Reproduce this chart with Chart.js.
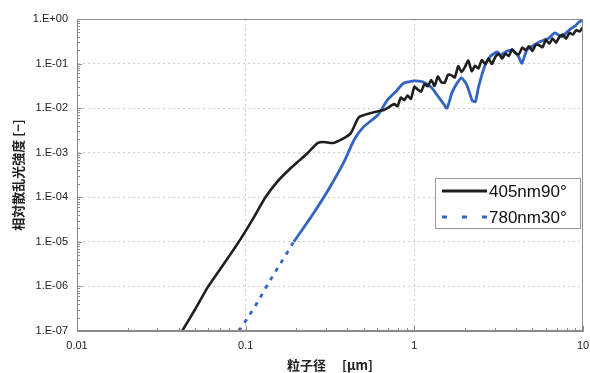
<!DOCTYPE html>
<html>
<head>
<meta charset="utf-8">
<script src="https://cdn.jsdelivr.net/npm/chart.js@4/dist/chart.umd.min.js"></script>
<style>
  html, body { margin: 0; padding: 0; background: #fff; }
  #wrap { width: 590px; height: 373px; }
</style>
</head>
<body>
<div id="wrap"><canvas id="canvas"></canvas></div>
<script>
// 粒子径 [um]
var sizes405 = [0.042, 0.05, 0.06, 0.075, 0.091, 0.11, 0.131, 0.155, 0.18, 0.21, 0.234, 0.268, 0.29, 0.33, 0.38, 0.42, 0.47, 0.555, 0.66, 0.69,
  0.759, 0.794, 0.832, 0.871, 0.912, 0.955, 1.0, 1.047, 1.096, 1.148, 1.202, 1.259, 1.318, 1.380, 1.445, 1.514, 1.585, 1.660, 1.738, 1.820,
  1.905, 1.995, 2.089, 2.188, 2.291, 2.399, 2.512, 2.630, 2.754, 2.884, 3.020, 3.162, 3.311, 3.467, 3.631, 3.802, 3.981, 4.169, 4.365, 4.571,
  4.786, 5.012, 5.248, 5.495, 5.754, 6.026, 6.310, 6.607, 6.918, 7.244, 7.586, 7.943, 8.318, 8.710, 9.120, 9.550, 10.0];
// 405nm90° 相対散乱光強度
var intensity405 = [1e-7, 3e-7, 1e-6, 3.4e-6, 1e-5, 3.2e-5, 1e-4, 2.3e-4, 4.1e-4, 6.9e-4, 1.0e-3, 1.66e-3, 1.74e-3, 1.66e-3, 2.1e-3, 2.75e-3, 6.3e-3, 7.8e-3, 9.1e-3, 1.0e-2,
  1.23e-2, 1.10e-2, 1.74e-2, 1.51e-2, 1.91e-2, 1.62e-2, 3.02e-2, 2.63e-2, 2.34e-2, 3.47e-2, 3.09e-2, 4.27e-2, 3.16e-2, 5.13e-2, 3.80e-2, 3.72e-2, 5.62e-2, 5.50e-2, 4.90e-2, 8.71e-2,
  6.46e-2, 8.32e-2, 0.117, 6.76e-2, 8.91e-2, 7.76e-2, 0.120, 9.77e-2, 0.129, 9.77e-2, 0.141, 0.166, 0.129, 0.166, 0.148, 0.209, 0.170, 0.162, 0.229, 0.200,
  0.245, 0.191, 0.263, 0.257, 0.234, 0.339, 0.282, 0.363, 0.295, 0.398, 0.447, 0.363, 0.490, 0.447, 0.562, 0.525, 0.661];

// 780nm30°
var sizes780 = [0.091, 0.103, 0.117, 0.135, 0.155, 0.193, 0.244, 0.31, 0.38, 0.44, 0.50, 0.61, 0.69, 0.78, 0.86, 0.93, 1.0, 1.12, 1.26, 1.36,
  1.48, 1.56, 1.67, 1.79, 1.9, 2.05, 2.2, 2.3, 2.4, 2.6, 2.8, 2.95, 3.1, 3.25, 3.4, 3.6, 3.8, 4.0, 4.16, 4.34,
  4.64, 5.0, 5.47, 5.9, 6.28, 6.8, 7.5, 8.0, 8.6, 9.0, 9.46, 10.0];
var intensity780 = [1.0e-7, 2.0e-7, 4.3e-7, 1.1e-6, 2.6e-6, 1.0e-5, 3.6e-5, 1.5e-4, 5.9e-4, 1.95e-3, 3.8e-3, 7.1e-3, 1.5e-2, 2.4e-2, 3.6e-2, 3.9e-2, 4.1e-2, 3.9e-2, 2.95e-2, 2.0e-2,
  1.3e-2, 1.0e-2, 2.2e-2, 3.6e-2, 4.8e-2, 3.3e-2, 1.5e-2, 1.4e-2, 2.95e-2, 8.3e-2, 0.141, 0.166, 0.182, 0.155, 0.174, 0.195, 0.2, 0.17, 0.141, 0.102,
  0.2, 0.245, 0.302, 0.34, 0.372, 0.49, 0.398, 0.5, 0.63, 0.7, 0.85, 0.95];

var seriesNames = ["405nm90°", "780nm30°"];
var xTickLabels = ["0.01", "0.1", "1", "10"];
var yTickLabels = ["1.E-07", "1.E-06", "1.E-05", "1.E-04", "1.E-03", "1.E-02", "1.E-01", "1.E+00"];

function toPoints(xs, ys) {
  return xs.map(function (x, i) { return { x: x, y: ys[i] }; });
}

function isDecade(v) {
  var l = Math.log10(v);
  return Math.abs(l - Math.round(l)) < 1e-6;
}

// 1..9 x 10^n の目盛
function logTicks(minExp, maxExp) {
  var t = [];
  for (var e = minExp; e < maxExp; e++) {
    for (var m = 1; m < 10; m++) t.push({ value: m * Math.pow(10, e) });
  }
  t.push({ value: Math.pow(10, maxExp) });
  return t;
}

var font = "'Liberation Sans', Arial, sans-serif";

// 枠・内向き目盛・凡例
var framePlugin = {
  id: 'frame',
  afterDraw: function (chart) {
    var c = chart.ctx, a = chart.chartArea;
    c.save();
    c.strokeStyle = '#8a8a8a';
    c.lineWidth = 1;
    c.strokeRect(a.left + 0.5, a.top + 0.5, a.right - a.left - 1, a.bottom - a.top - 1);
    c.beginPath();
    chart.scales.y.ticks.forEach(function (t) {
      var y = Math.round(chart.scales.y.getPixelForValue(t.value)) + 0.5;
      var len = isDecade(t.value) ? 5 : 3;
      c.moveTo(a.left, y); c.lineTo(a.left + len, y);
    });
    chart.scales.x.ticks.forEach(function (t) {
      var x = Math.round(chart.scales.x.getPixelForValue(t.value)) + 0.5;
      var len = isDecade(t.value) ? 5 : 3;
      c.moveTo(x, a.bottom); c.lineTo(x, a.bottom - len);
    });
    c.stroke();

    // 凡例
    var bx = a.right - 148, by = a.top + 159, bw = 145, bh = 50;
    c.fillStyle = '#fff';
    c.fillRect(bx, by, bw, bh);
    c.strokeStyle = '#999';
    c.strokeRect(bx + 0.5, by + 0.5, bw, bh);
    c.font = '17px ' + font;
    c.textBaseline = 'middle';
    chart.data.datasets.forEach(function (ds, i) {
      var ly = by + 13 + i * 26;
      c.beginPath();
      c.strokeStyle = ds.borderColor;
      c.lineWidth = 3;
      c.setLineDash(i === 0 ? [] : [5, 15]);
      c.moveTo(bx + 7, ly); c.lineTo(bx + 52, ly);
      c.stroke();
      c.setLineDash([]);
      c.fillStyle = '#111';
      c.fillText(ds.label, bx + 54, ly + 1);
    });
    c.restore();
  }
};

var ctx = document.getElementById('canvas');
var myChart = new Chart(ctx, {
  type: 'line',
  data: {
    datasets: [
      {
        label: seriesNames[0],
        data: toPoints(sizes405, intensity405),
        borderColor: '#1e1e1e',
        borderWidth: 2.6,
        pointRadius: 0,
        tension: 0.2
      },
      {
        label: seriesNames[1],
        data: toPoints(sizes780, intensity780),
        borderColor: '#3264c6',
        borderWidth: 2.8,
        pointRadius: 0,
        tension: 0.2,
        borderDash: [4, 6],
        segment: {
          borderDash: function (s) { return s.p0.parsed.y < 1e-5 ? undefined : []; }
        }
      }
    ]
  },
  options: {
    responsive: true,
    maintainAspectRatio: false,
    animation: false,
    layout: { padding: { top: 19, right: 0, left: 0, bottom: 0 } },
    plugins: {
      legend: { display: false },
      tooltip: { enabled: false }
    },
    scales: {
      x: {
        type: 'logarithmic',
        min: 0.01,
        max: 10,
        afterBuildTicks: function (s) { s.ticks = logTicks(-2, 1); },
        afterFit: function (s) { s.height = 42; s.paddingRight = 7; s.paddingLeft = 0; },
        ticks: {
          autoSkip: false,
          maxRotation: 0,
          padding: 8,
          color: '#222',
          font: { family: font, size: 11 },
          callback: function (v) {
            if (!isDecade(v)) return '';
            return xTickLabels[Math.round(Math.log10(v)) + 2];
          }
        },
        grid: {
          drawTicks: false,
          color: function (c) {
            if (!c.tick) return 'rgba(0,0,0,0)';
            var v = c.tick.value;
            return (isDecade(v) && v > 0.011 && v < 9) ? '#bcd0e2' : 'rgba(0,0,0,0)';
          }
        },
        border: { color: '#8a8a8a', dash: [2, 3] },
        title: {
          display: true,
          text: '粒子径　 [μm]',
          color: '#222',
          font: { family: "'Noto Sans CJK JP', sans-serif", size: 13, weight: 'bold' },
          padding: { top: 1, bottom: 0 }
        }
      },
      y: {
        type: 'logarithmic',
        min: 1e-7,
        max: 1,
        afterBuildTicks: function (s) { s.ticks = logTicks(-7, 0); },
        afterFit: function (s) { s.width = 77; },
        ticks: {
          autoSkip: false,
          padding: 9,
          color: '#222',
          font: { family: font, size: 11 },
          callback: function (v) {
            if (!isDecade(v)) return '';
            return yTickLabels[Math.round(Math.log10(v)) + 7];
          }
        },
        grid: {
          drawTicks: false,
          color: function (c) {
            if (!c.tick) return 'rgba(0,0,0,0)';
            var v = c.tick.value;
            return (isDecade(v) && v > 1.1e-7 && v < 0.9) ? '#cccccc' : 'rgba(0,0,0,0)';
          }
        },
        border: { color: '#8a8a8a', dash: [2, 3] },
        title: {
          display: true,
          text: '相対散乱光強度 [−]',
          color: '#222',
          font: { family: "'Noto Sans CJK JP', sans-serif", size: 13, weight: 'bold' },
          padding: { top: 10, bottom: 0 }
        }
      }
    }
  },
  plugins: [framePlugin]
});
</script>
</body>
</html>
